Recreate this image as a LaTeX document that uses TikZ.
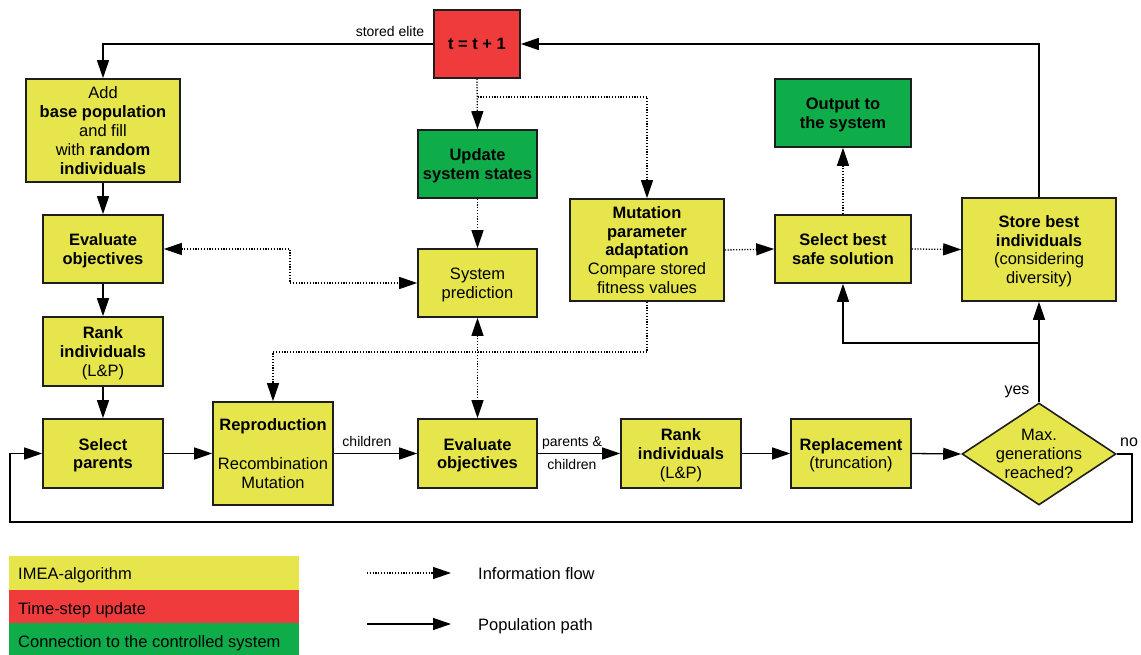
\documentclass[tikz,border=0pt]{standalone}
\usepackage{fontspec}
\setmainfont{Liberation Sans}
\usetikzlibrary{arrows.meta,shapes.geometric}

\definecolor{imeayellow}{RGB}{230,230,76}
\definecolor{stepred}{RGB}{239,59,59}
\definecolor{sysgreen}{RGB}{14,173,74}
\definecolor{edgecol}{RGB}{30,30,30}

\tikzset{
  blk/.style={draw=edgecol, line width=1.6pt, align=center, inner sep=2pt,
    text depth=0pt, font=\fontsize{16.5}{18.8}\selectfont},
  algo/.style={blk, fill=imeayellow},
  tstepbox/.style={blk, fill=stepred},
  sysbox/.style={blk, fill=sysgreen},
  pop/.style={line width=1.3pt, draw=black, -{Triangle[length=18pt,width=12pt]}},
  dotline/.style={line width=1.3pt, draw=black, dash pattern=on 1.2pt off 1.6pt},
  info/.style={dotline, -{Triangle[length=18pt,width=12pt]}},
  infoboth/.style={dotline,
    {Triangle[length=18pt,width=12pt]}-{Triangle[length=18pt,width=12pt]}},
  smalllbl/.style={font=\fontsize{14}{16}\selectfont, inner sep=0pt},
  lbl/.style={font=\fontsize{16}{18}\selectfont, inner sep=0pt},
  legbox/.style={anchor=north west, minimum height=33.5pt, text width=272pt,
    inner xsep=9pt, inner ysep=0pt, align=left, text depth=0pt,
    font=\fontsize{16.5}{18.8}\selectfont},
  legtext/.style={anchor=base west, inner sep=0pt, font=\fontsize{16.5}{18.8}\selectfont},
}

\begin{document}
\begin{tikzpicture}[x=1pt,y=-1pt]
\useasboundingbox (0,0) rectangle (1141,655);

% ---- boxes ----
\node[tstepbox, minimum width=86pt, minimum height=68pt] (tstep) at (477,44) {\textbf{t = t + 1}};
\node[algo, minimum width=154pt, minimum height=103pt] (addpop) at (103,130.5)
  {Add\\\textbf{base population}\\and fill\\with \textbf{random}\\\textbf{individuals}};
\node[sysbox, minimum width=119pt, minimum height=68pt] (update) at (477.5,164)
  {\textbf{Update}\\\textbf{system states}};
\node[sysbox, minimum width=136pt, minimum height=68pt] (output) at (843,113)
  {\textbf{Output to}\\\textbf{the system}};
\node[algo, minimum width=120pt, minimum height=68pt] (evalL) at (103,249)
  {\textbf{Evaluate}\\\textbf{objectives}};
\node[algo, minimum width=119pt, minimum height=68pt] (sysp) at (477.5,283)
  {System\\prediction};
\node[algo, minimum width=154pt, minimum height=102pt] (mutp) at (647,250)
  {\textbf{Mutation}\\\textbf{parameter}\\\textbf{adaptation}\\Compare stored\\fitness values};
\node[algo, minimum width=136pt, minimum height=68pt] (selbest) at (843,249)
  {\textbf{Select best}\\\textbf{safe solution}};
\node[algo, minimum width=154pt, minimum height=103pt] (store) at (1039,249.5)
  {\textbf{Store best}\\\textbf{individuals}\\(considering\\diversity)};
\node[algo, minimum width=120pt, minimum height=69pt] (rankL) at (103,351.5)
  {\textbf{Rank}\\\textbf{individuals}\\(L\&P)};
\node[algo, minimum width=120pt, minimum height=69pt] (selpar) at (103,453.5)
  {\textbf{Select}\\\textbf{parents}};
\node[algo, minimum width=120pt, minimum height=103pt] (repro) at (273,453.5)
  {\textbf{Reproduction}\\[20pt]Recombination\\Mutation};
\node[algo, minimum width=119pt, minimum height=69pt] (evalM) at (477.5,453.5)
  {\textbf{Evaluate}\\\textbf{objectives}};
\node[algo, minimum width=120pt, minimum height=69pt] (rankM) at (681,453.5)
  {\textbf{Rank}\\\textbf{individuals}\\(L\&P)};
\node[algo, minimum width=120pt, minimum height=69pt] (repl) at (851,453.5)
  {\textbf{Replacement}\\(truncation)};
\node[diamond, draw=edgecol, line width=1.6pt, fill=imeayellow, inner sep=0pt,
  minimum width=154pt, minimum height=102pt] (maxgen) at (1039,454) {};
\node[align=center, inner sep=0pt, text depth=0pt, font=\fontsize{16.5}{18.8}\selectfont]
  (maxgentext) at (maxgen.center) {Max.\\generations\\reached?};

% ---- helper points ----
\coordinate (tbranch) at (477.5,97);
\coordinate (evalmid) at (290,266);
\coordinate (mutdown) at (647,352);
\coordinate (ybranch) at (1039,343);
\coordinate (noright) at (1132,522);
\coordinate (noleft) at (10,522);

% ---- population path ----
\draw[pop] (tstep.west) -| (addpop.north);
\draw[pop] (store.north) |- (tstep.east);
\draw[pop] (addpop.south) -- (evalL.north);
\draw[pop] (evalL.south) -- (rankL.north);
\draw[pop] (rankL.south) -- (selpar.north);
\draw[pop] (selpar.east) -- (repro.west);
\draw[pop] (repro.east) -- (evalM.west);
\draw[pop] (evalM.east) -- (rankM.west);
\draw[pop] (rankM.east) -- (repl.west);
\draw[pop] (repl.east) -- (maxgen.west);
\draw[pop] (maxgen.north) -- (store.south);
\draw[pop] (ybranch) -| (selbest.south);
\draw[pop] (maxgen.east) -| (noright) -- (noleft) |- (selpar.west);

% ---- information flow ----
\draw[info] (tstep.south) -- (update.north);
\draw[info] (tbranch) -| (mutp.north);
\draw[info] (update.south) -- (sysp.north);
\draw[infoboth] (evalL.east) -| (evalmid) |- (sysp.west);
\draw[infoboth] (sysp.south) -- (evalM.north);
\draw[info] (mutp.south) -- (mutdown) -| (repro.north);
\draw[info] (mutp.east) -- (selbest.west);
\draw[info] (selbest.east) -- (store.west);
\draw[info] (selbest.north) -- (output.south);

% ---- connector labels ----
\node[smalllbl, anchor=base] (lelite) at (390,37) {stored elite};
\node[smalllbl, anchor=base] (lchild) at (367,446) {children};
\node[smalllbl, anchor=base] (lpar) at (572,446) {parents \&};
\node[smalllbl, anchor=base] (lchild2) at (572,469) {children};
\node[lbl, anchor=base] (lyes) at (1017,394) {yes};
\node[lbl, anchor=base] (lno) at (1129,446) {no};

% ---- legend ----
\node[legbox, fill=imeayellow] (legA) at (9,556) {};
\node[legbox, fill=stepred] (legB) at (9,589.5) {};
\node[legbox, fill=sysgreen] (legC) at (9,623) {};
\node[legtext] (legAt) at (18,579) {IMEA-algorithm};
\node[legtext] (legBt) at (18,614) {Time-step update};
\node[legtext] (legCt) at (18,647) {Connection to the controlled system};

\coordinate (infoA) at (367,573);
\coordinate (infoB) at (451,573);
\coordinate (popA) at (367,624);
\coordinate (popB) at (451,624);
\draw[info] (infoA) -- (infoB);
\draw[pop] (popA) -- (popB);
\node[legtext] (linfo) at (478,579) {Information flow};
\node[legtext] (lpop) at (478,630) {Population path};
\end{tikzpicture}
\end{document}
